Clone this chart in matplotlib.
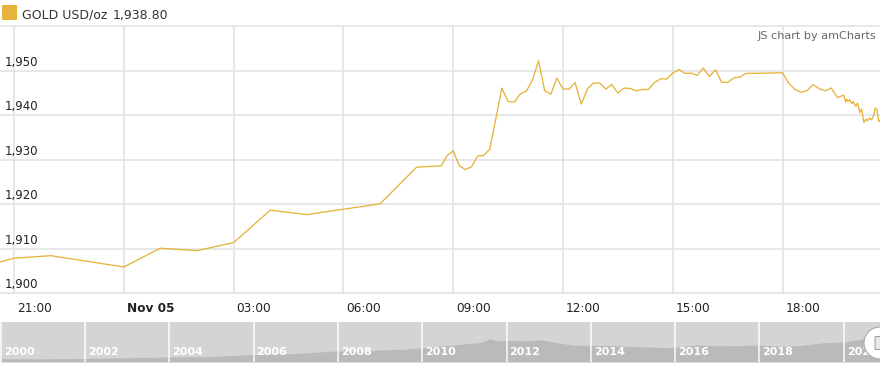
import matplotlib.pyplot as plt
import matplotlib.transforms as mtransforms
from matplotlib.patches import Circle, Rectangle, FancyBboxPatch
import numpy as np

# hours counted from Nov 04 21:00
hours = [-0.38, 0, 1, 3, 4, 5, 6, 7, 8, 9, 10, 11, 11.67, 11.83, 12.0, 12.17, 12.33, 12.5,
         12.67, 12.83, 13.0, 13.33, 13.5, 13.67, 13.83, 14.0, 14.17, 14.33, 14.5, 14.67,
         14.83, 15.0, 15.17, 15.33, 15.5, 15.67, 15.83, 16.0, 16.17, 16.33, 16.5, 16.67,
         16.83, 17.0, 17.17, 17.33, 17.5, 17.67, 17.83, 18.0, 18.17, 18.33, 18.5, 18.67,
         18.83, 19.0, 19.17, 19.33, 19.5, 19.67, 19.83, 20.0, 21.0, 21.17, 21.33, 21.5,
         21.67, 21.83, 22.0, 22.17, 22.33, 22.5, 22.67, 22.72, 22.75, 22.79, 22.84, 22.89,
         22.93, 23.0, 23.05, 23.11, 23.16, 23.22, 23.28, 23.32, 23.37, 23.43, 23.48, 23.53,
         23.57, 23.63, 23.66]
prices = [1906.97, 1907.81, 1908.39, 1905.85, 1910.06, 1909.52, 1911.32, 1918.60, 1917.62,
          1918.83, 1920.02, 1928.28, 1928.57, 1930.82, 1931.95, 1928.57, 1927.74, 1928.35,
          1930.82, 1930.89, 1932.33, 1946.05, 1943.04, 1942.90, 1944.70, 1945.38, 1947.92,
          1952.19, 1945.44, 1944.70, 1948.30, 1945.83, 1945.83, 1947.31, 1942.45, 1945.89,
          1947.18, 1947.18, 1945.83, 1946.86, 1944.93, 1946.05, 1945.96, 1945.44, 1945.74,
          1945.74, 1947.31, 1948.14, 1948.08, 1949.43, 1950.24, 1949.34, 1949.43, 1948.89,
          1950.55, 1948.66, 1950.17, 1947.40, 1947.31, 1948.37, 1948.53, 1949.34, 1949.49,
          1947.10, 1945.80, 1945.10, 1945.45, 1946.85, 1945.90, 1945.45, 1946.05, 1943.90,
          1944.50, 1942.90, 1943.58, 1943.04, 1943.42, 1942.52, 1943.04, 1941.91, 1942.68,
          1940.56, 1941.33, 1938.31, 1939.08, 1938.70, 1939.30, 1938.92, 1939.66, 1941.55,
          1941.33, 1938.54, 1938.80]

tick_hours = [0, 3, 6, 9, 12, 15, 18, 21]
tick_labels = ['21:00', 'Nov 05', '03:00', '06:00', '09:00', '12:00', '15:00', '18:00']
y_levels = [1900, 1910, 1920, 1930, 1940, 1950]

# scrollbar history
hist_years = [2000.0, 2001.0, 2002.0, 2003.0, 2004.0, 2005.0, 2006.0, 2007.0, 2008.0, 2008.6,
              2009.0, 2009.5, 2010.0, 2010.5, 2011.0, 2011.4, 2011.6, 2011.8, 2012.0, 2012.4,
              2012.8, 2013.3, 2013.6, 2014.0, 2014.5, 2015.0, 2015.9, 2016.5, 2017.0, 2017.5,
              2018.0, 2018.7, 2019.0, 2019.5, 2020.0, 2020.3, 2020.6, 2020.86]
hist_prices = [280, 270, 300, 360, 410, 450, 600, 680, 880, 830, 950, 990, 1120, 1250, 1400,
               1520, 1800, 1620, 1680, 1640, 1720, 1450, 1300, 1300, 1280, 1200, 1120, 1330,
               1250, 1280, 1320, 1220, 1300, 1480, 1560, 1700, 1900, 1890]
year_labels = [2000, 2002, 2004, 2006, 2008, 2010, 2012, 2014, 2016, 2018, 2020]

gold = '#e6b43c'
grid_c = '#e3e3e3'

fig = plt.figure(figsize=(8.8, 3.69), dpi=100)
ax = fig.add_axes([0, 1 - 293 / 369, 1, 267 / 369])
ax.set_xlim(-14 / 36.6, 866 / 36.6)
ax.set_ylim(1900, 1960)
for s in ax.spines.values():
    s.set_visible(False)
ax.set_xticks([])
ax.set_yticks([])

for y in y_levels + [1960]:
    ax.axhline(y, color=grid_c, lw=1.2, zorder=1, clip_on=False)
for h in tick_hours:
    ax.axvline(h, color=grid_c, lw=1.2, zorder=1)

ax.plot(hours, prices, color=gold, lw=0.95, zorder=3)

# y labels inside the plot
ytr = mtransforms.blended_transform_factory(ax.transAxes, ax.transData)
for y in y_levels:
    ax.text(5 / 880, y + 0.35, f'{y:,}', transform=ytr, fontsize=8.5,
            color='#222222', ha='left', va='bottom')

# x labels
xtr = mtransforms.blended_transform_factory(ax.transData, ax.transAxes)
for h, lab in zip(tick_hours, tick_labels):
    t = mtransforms.offset_copy(xtr, fig=fig, x=3, y=0, units='dots')
    ax.text(h, -16 / 267, lab, transform=t, fontsize=8.7, color='#222222',
            ha='left', va='center', fontweight='bold' if lab.startswith('Nov') else 'normal')

# legend & credit
fig.patches.append(Rectangle((2 / 880, 1 - 20 / 369), 15 / 880, 15 / 369,
                             transform=fig.transFigure, facecolor=gold, edgecolor='none'))
fig.text(22 / 880, 1 - 15 / 369, 'GOLD USD/oz', fontsize=9, color='#333333', va='center')
fig.text(113 / 880, 1 - 15 / 369, f'{prices[-1]:,.2f}', fontsize=9, color='#333333', va='center')
fig.text(876 / 880, 1 - 36 / 369, 'JS chart by amCharts', fontsize=8.1, color='#666666',
         ha='right', va='center')

# scrollbar
sx = fig.add_axes([0, 1 - 362 / 369, 1, 40 / 369])
sx.set_xlim(2000 - 0.7 / 42.15, 2000 + 879.3 / 42.15)
sx.set_ylim(30, 3070)
sx.set_facecolor('#d4d4d4')
for s in sx.spines.values():
    s.set_visible(False)
sx.set_xticks([])
sx.set_yticks([])
sx.fill_between(hist_years, 30, hist_prices, color='#bababa', lw=0, zorder=1)
for yr in year_labels:
    sx.axvline(yr, color='white', lw=1.3, alpha=0.8, zorder=2)
    t = mtransforms.offset_copy(sx.get_xaxis_transform(), fig=fig, x=3, y=0, units='dots')
    sx.text(yr, 0.25, str(yr), transform=t, color='white', fontsize=8, fontweight='bold',
            ha='left', va='center', zorder=3)

# scrollbar handle
fig.add_artist(Circle((8.80, (369 - 343) / 100), 0.16, transform=fig.dpi_scale_trans,
                      facecolor='white', edgecolor='#aaaaaa', lw=0.8, zorder=5))
fig.add_artist(FancyBboxPatch((8.755, (369 - 349) / 100), 0.06, 0.12, boxstyle='round,pad=0.005',
                              transform=fig.dpi_scale_trans, facecolor='#e8e8e8',
                              edgecolor='#999999', lw=0.7, zorder=6))

fig.savefig('out.png', dpi=100)
